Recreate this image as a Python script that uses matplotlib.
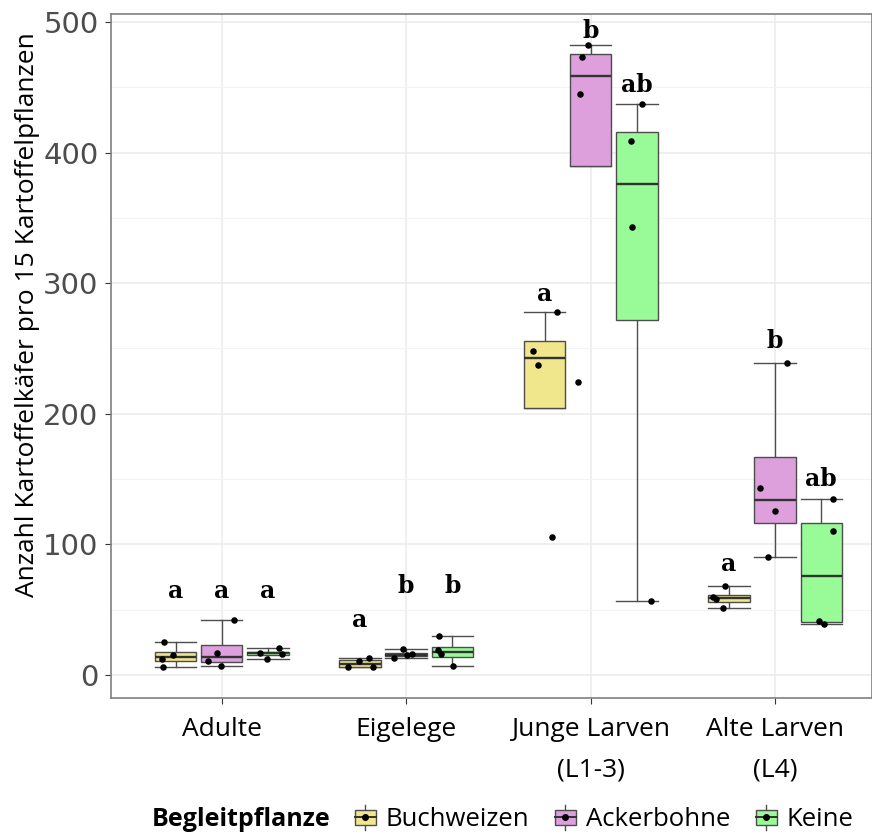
import numpy as np
import matplotlib
matplotlib.use("Agg")
import matplotlib.pyplot as plt
from matplotlib.patches import Patch, Rectangle
from matplotlib.lines import Line2D
from matplotlib.legend_handler import HandlerBase

# Daten
stadien = ["Adulte", "Eigelege", "Junge Larven\n(L1-3)", "Alte Larven\n(L4)"]
pflanzen = ["Buchweizen", "Ackerbohne", "Keine"]

buchweizen = [[6, 12, 15, 25], [6, 6.5, 11, 13], [106, 237, 248, 278], [51, 58, 59.5, 68]]
ackerbohne = [[7, 11, 17, 42], [13, 15, 16, 20], [224, 445, 473, 482], [90, 125.5, 143, 239]]
keine = [[12, 16, 17, 21], [7, 16, 19, 30], [57, 343, 409, 437], [39, 41.5, 110, 135]]

# Jitter der Punkte (x-Versatz)
jitter_buchweizen = [[-0.070, -0.076, -0.016, -0.065], [-0.068, 0.068, -0.008, 0.046],
                     [0.043, -0.033, -0.060, 0.065], [-0.033, -0.070, -0.087, -0.022]]
jitter_ackerbohne = [[-0.005, -0.073, -0.027, 0.068], [-0.065, 0.005, 0.033, -0.016],
                     [-0.070, -0.060, -0.049, -0.016], [-0.038, 0.0, -0.084, 0.065]]
jitter_keine = [[-0.005, 0.076, -0.043, 0.060], [0.003, -0.060, -0.076, -0.073],
                [0.076, -0.027, -0.033, 0.027], [0.016, -0.011, 0.065, 0.065]]

# Buchstaben (Signifikanz) und ihre Hoehe
buchstaben_buchweizen = ["a", "a", "a", "a"]
buchstaben_ackerbohne = ["a", "b", "b", "b"]
buchstaben_keine = ["a", "b", "ab", "ab"]
hoehe_buchweizen = [58.7, 37, 286, 80]
hoehe_ackerbohne = [58.7, 63, 487.5, 250]
hoehe_keine = [58.7, 63, 446.6, 145]

farben = ["#F0E68C", "#DDA0DD", "#98FB98"]

daten = [buchweizen, ackerbohne, keine]
jitter = [jitter_buchweizen, jitter_ackerbohne, jitter_keine]
buchstaben = [buchstaben_buchweizen, buchstaben_ackerbohne, buchstaben_keine]
hoehen = [hoehe_buchweizen, hoehe_ackerbohne, hoehe_keine]

fig = plt.figure(figsize=(8.72, 8.36), dpi=100)
ax = fig.add_axes([111/872, 138/836, 761/872, 684/836])

x = np.arange(1, len(stadien) + 1)
dodge = [-0.25, 0, 0.25]
breite = 0.225
kante = "#4D4D4D"

for i in range(3):
    pos = x + dodge[i]
    bp = ax.boxplot(daten[i], positions=pos, widths=breite, patch_artist=True,
                    showfliers=False, whis=1.5, capwidths=breite, manage_ticks=False,
                    boxprops=dict(facecolor=farben[i], edgecolor=kante, linewidth=1.0),
                    medianprops=dict(color="#333333", linewidth=1.7),
                    whiskerprops=dict(color=kante, linewidth=1.0),
                    capprops=dict(color=kante, linewidth=1.0))
    for w in bp["whiskers"] + bp["caps"]:
        w.set_zorder(2)
    for b in bp["boxes"]:
        b.set_zorder(3)
    for m in bp["medians"]:
        m.set_zorder(4)
    for j in range(len(stadien)):
        px = pos[j] + np.array(jitter[i][j])
        ax.scatter(px, daten[i][j], s=22, color="black", zorder=5, linewidths=0)
        ax.text(pos[j], hoehen[i][j], buchstaben[i][j], ha="center", va="baseline",
                fontsize=17, fontweight="bold", family="DejaVu Serif", zorder=6)

ax.set_xlim(0.4, 4.525)
ax.set_ylim(-17.6, 506.1)
ax.set_xticks(x)
ax.set_xticklabels(stadien, family="Open Sans", fontsize=19, linespacing=1.8)
ax.set_yticks(np.arange(0, 501, 100))
ax.set_yticks(np.arange(50, 500, 100), minor=True)
ax.tick_params(axis="y", which="major", labelsize=21, labelcolor="#4D4D4D",
               color="#333333", length=4, pad=5)
ax.tick_params(axis="y", which="minor", length=0)
ax.tick_params(axis="x", color="#333333", length=4, pad=10, labelcolor="black")
ax.grid(which="major", color="#EBEBEB", linewidth=1.1)
ax.grid(which="minor", axis="y", color="#F3F3F3", linewidth=0.8)
ax.set_axisbelow(True)
for s in ax.spines.values():
    s.set_color("#7F7F7F")
    s.set_linewidth(1.2)

fig.text(28/872, 1 - 315/836, "Anzahl Kartoffelkäfer pro 15 Kartoffelpflanzen",
         rotation=90, ha="center", va="center", family="Open Sans", fontsize=19)


class BoxHandler(HandlerBase):
    def create_artists(self, legend, orig_handle, xdescent, ydescent, width, height,
                       fontsize, trans):
        cx = -xdescent + width / 2
        y0 = -ydescent
        col = orig_handle.get_facecolor()
        linie = Line2D([cx, cx], [y0 - height * 0.3, y0 + height * 1.3],
                       color=kante, lw=1.0, transform=trans)
        box = Rectangle((-xdescent, y0), width, height, facecolor=col,
                        edgecolor=kante, lw=1.0, transform=trans)
        med = Line2D([-xdescent, -xdescent + width], [y0 + height / 2] * 2,
                     color="#333333", lw=1.4, transform=trans)
        punkt = Line2D([cx], [y0 + height / 2], marker="o", color="black",
                       markersize=4, transform=trans)
        return [linie, box, med, punkt]


handles = [Patch(facecolor=f) for f in farben]
fig.text(152/872, 1 - 820/836, "Begleitpflanze", family="Open Sans", fontweight="bold",
         fontsize=18, ha="left", va="center")
fig.legend(handles, pflanzen, handler_map={Patch: BoxHandler()}, ncol=3,
           loc="center left", bbox_to_anchor=(355/872, 1 - 820/836), frameon=False,
           prop={"family": "Open Sans", "size": 18.5}, handlelength=0.8, handleheight=0.55,
           handletextpad=0.4, columnspacing=1.0, borderaxespad=0, borderpad=0)

fig.savefig("out.png", dpi=100)
